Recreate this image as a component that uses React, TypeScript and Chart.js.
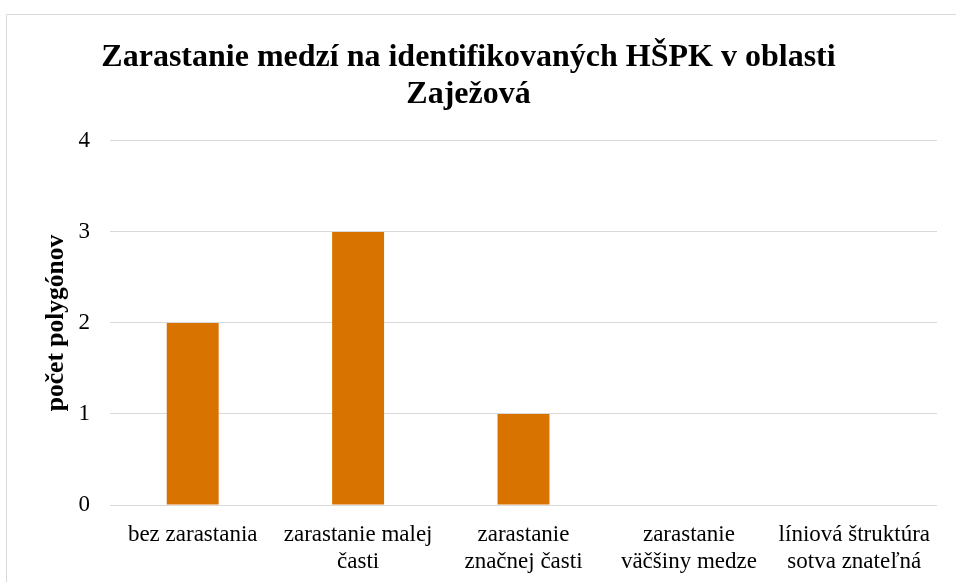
import React, { useEffect, useRef } from "react";
import { Chart, registerables } from "chart.js";

Chart.register(...registerables);

const titleLines = ["Zarastanie medzí na identifikovaných HŠPK v oblasti", "Zaježová"];
const yAxisTitle = "počet polygónov";
const categories: string[][] = [
  ["bez zarastania"],
  ["zarastanie malej", "časti"],
  ["zarastanie", "značnej časti"],
  ["zarastanie", "väčšiny medze"],
  ["líniová štruktúra", "sotva znateľná"],
];
const counts = [2, 3, 1, 0, 0];
const yMin = 0;
const yMax = 4;
const yStep = 1;

const FONT = "'Liberation Serif', 'Times New Roman', serif";

const borderPlugin = {
  id: "outerBorder",
  beforeDraw(chart: any) {
    const ctx = chart.ctx;
    ctx.save();
    ctx.fillStyle = "#ffffff";
    ctx.fillRect(0, 0, chart.width, chart.height);
    ctx.strokeStyle = "#d9d9d9";
    ctx.lineWidth = 1;
    ctx.beginPath();
    ctx.moveTo(6.5, chart.height + 5);
    ctx.lineTo(6.5, 14.5);
    ctx.lineTo(chart.width + 5, 14.5);
    ctx.stroke();
    ctx.restore();
  },
};

export default function App() {
  const ref = useRef<HTMLCanvasElement | null>(null);
  useEffect(() => {
    document.body.style.margin = "0";
    const canvas = ref.current!;
    const chart = new Chart(canvas, {
      type: "bar",
      data: {
        labels: categories,
        datasets: [
          {
            data: counts,
            backgroundColor: "#d97300",
            borderWidth: 0,
            categoryPercentage: 1,
            barPercentage: 0.314,
          },
        ],
      },
      options: {
        responsive: false,
        animation: false,
        layout: { padding: { left: 0, right: 19, top: 0, bottom: 0 } },
        plugins: {
          legend: { display: false },
          tooltip: { enabled: false },
          title: {
            display: true,
            text: titleLines,
            color: "#000",
            font: { family: FONT, size: 32, weight: "bold", lineHeight: 1.156 },
            padding: { top: 39, bottom: 28 },
          },
        },
        scales: {
          x: {
            grid: { display: false, drawTicks: false },
            border: { display: false },
            ticks: {
              color: "#000",
              padding: 16,
              maxRotation: 0,
              autoSkip: false,
              font: { family: FONT, size: 23, lineHeight: 1.2 },
            },
            afterFit(scale: any) {
              scale.height = 77;
            },
          },
          y: {
            min: yMin,
            max: yMax,
            ticks: {
              stepSize: yStep,
              color: "#000",
              padding: 20,
              font: { family: FONT, size: 23 },
            },
            grid: { color: "#d9d9d9", lineWidth: 1, drawTicks: false },
            border: { display: false },
            title: {
              display: true,
              text: yAxisTitle,
              color: "#000",
              font: { family: FONT, size: 25.5, weight: "bold", lineHeight: 1.2 },
              padding: { top: 41, bottom: 0 },
            },
            afterFit(scale: any) {
              scale.width = 110;
            },
          },
        },
      },
      plugins: [borderPlugin],
    });
    return () => chart.destroy();
  }, []);
  return (
    <div style={{ position: "absolute", left: 0, top: 0, width: 956, height: 582 }}>
      <canvas ref={ref} width={956} height={582} style={{ display: "block" }} />
    </div>
  );
}
